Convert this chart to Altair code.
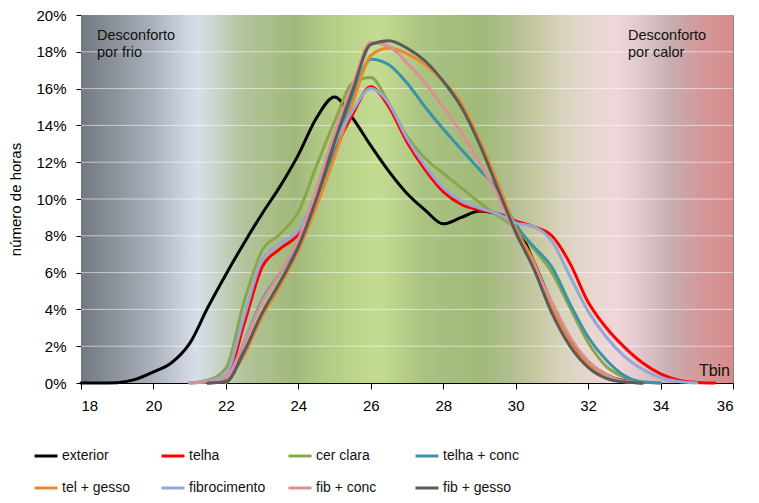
import altair as alt
import pandas as pd

N = None
# temperature bins (°C)
x_bins = [18.0 + 0.5 * i for i in range(37)]

# percentage of hours (%) per series, aligned with x_bins
exterior = [0, 0, 0.02, 0.2, 0.6, 1.1, 2.15, 4.1, 5.9, 7.6, 9.2, 10.7, 12.4, 14.4, 15.55, 14.4, 12.9, 11.5, 10.3, 9.4, 8.65, 9.0, 9.35, 9.2, 8.6, 6.6, 4.3, 2.4, 1.15, 0.45, 0.12, 0, N, N, N, N, N]
telha = [N, N, N, N, N, N, N, 0, 0.2, 3.2, 6.3, 7.3, 8.1, 10.2, 12.6, 14.6, 16.1, 15.0, 13.1, 11.6, 10.4, 9.7, 9.4, 9.2, 8.8, 8.5, 8.0, 6.5, 4.4, 3.0, 1.95, 1.1, 0.5, 0.15, 0.03, 0, N]
cer_clara = [N, N, N, N, N, N, 0, 0.15, 0.8, 4.4, 7.2, 8.1, 9.3, 11.8, 14.2, 16.3, 16.6, 15.2, 13.4, 12.2, 11.4, 10.6, 9.8, 9.1, 8.4, 7.3, 6.0, 4.1, 2.2, 0.9, 0.3, 0.05, 0, N, N, N, N]
telha_conc = [N, N, N, N, N, N, N, 0, 0.1, 2.2, 4.5, 6.0, 7.6, 9.9, 12.8, 15.5, 17.6, 17.3, 16.3, 15.0, 13.8, 12.7, 11.6, 10.5, 8.6, 7.4, 6.3, 4.3, 2.5, 1.25, 0.4, 0.05, 0, N, N, N, N]
tel_gesso = [N, N, N, N, N, N, N, N, 0, 1.5, 3.6, 5.3, 7.2, 9.6, 12.3, 15.2, 17.8, 18.2, 17.9, 17.3, 16.4, 15.2, 13.2, 10.9, 8.4, 6.6, 4.1, 2.2, 1.0, 0.35, 0.08, 0, N, N, N, N, N]
fibrocimento = [N, N, N, N, N, N, 0, 0.1, 0.5, 3.6, 6.7, 7.6, 8.3, 10.4, 13.0, 14.8, 16.0, 15.2, 13.3, 11.8, 10.6, 9.9, 9.5, 9.2, 8.7, 8.5, 7.7, 5.8, 3.9, 2.5, 1.45, 0.75, 0.3, 0.08, 0, N, N]
fib_conc = [N, N, N, N, N, N, 0, 0.05, 0.3, 2.2, 4.4, 6.0, 7.8, 10.5, 13.6, 16.2, 18.5, 18.3, 17.4, 16.3, 15.0, 13.6, 12.0, 10.2, 8.1, 6.4, 4.4, 2.5, 1.2, 0.45, 0.1, 0, N, N, N, N, N]
fib_gesso = [N, N, N, N, N, N, N, 0, 0.05, 1.7, 3.8, 5.5, 7.4, 10.0, 13.1, 15.9, 18.4, 18.6, 18.2, 17.5, 16.4, 15.0, 13.0, 10.6, 8.2, 6.2, 3.8, 2.0, 0.85, 0.25, 0.05, 0, N, N, N, N, N]

series_names = ["exterior", "telha", "cer clara", "telha + conc",
                "tel + gesso", "fibrocimento", "fib + conc", "fib + gesso"]
series_values = [exterior, telha, cer_clara, telha_conc,
                 tel_gesso, fibrocimento, fib_conc, fib_gesso]
series_colors = ["#000000", "#ff0000", "#8aa64a", "#3a93a8",
                 "#e8892f", "#94a7d6", "#da9095", "#5a5a5a"]

x_ticks = [18, 20, 22, 24, 26, 28, 30, 32, 34, 36]
y_grid = [2, 4, 6, 8, 10, 12, 14, 16, 18]

# background gradient (temperature -> colour)
grad_temps = [18, 19, 20, 20.7, 21.2, 21.8, 22.5, 23.3, 23.9, 24.6, 25.5, 26.2, 26.8,
              27.5, 28.5, 29.1, 29.9, 30.7, 31.3, 32.0, 32.8, 33.5, 34.3, 35.0, 36]
grad_colors = ["#737981", "#8e949c", "#abb2bd", "#c6cdd9", "#d6dee9", "#c7d3c6",
               "#b2c39c", "#a9bd86", "#a1b87c", "#b0c885", "#bcd58b", "#c3dc92",
               "#b8d08a", "#aac281", "#a5bd7c", "#a1ba78", "#b3bf90", "#cacaa6",
               "#d8d3bd", "#e6d6cc", "#efd6da", "#dfc6ca", "#c8adb1", "#d29b9c", "#d88b8b"]

rows = []
for name, vals in zip(series_names, series_values):
    assert len(vals) == len(x_bins)
    for xv, v in zip(x_bins, vals):
        if v is not None:
            rows.append({"t": xv, "v": v, "series": name})
df = pd.DataFrame(rows)

FONT = "Liberation Sans, Arial, sans-serif"

xscale = alt.Scale(domain=[18, 36], nice=False, zero=False)
yscale = alt.Scale(domain=[0, 20], nice=False)
xaxis = alt.Axis(values=x_ticks, title=None, grid=False, tickSize=6,
                 labelPadding=9, labelFontSize=15, labelFont=FONT, labelColor="black",
                 domainColor="black", tickColor="black")
yaxis = alt.Axis(values=[0, 2, 4, 6, 8, 10, 12, 14, 16, 18, 20], title="número de horas",
                 grid=False, tickSize=5, labelPadding=10, labelFontSize=15, labelFont=FONT,
                 labelExpr="datum.value + '%'", labelColor="black",
                 domainColor="black", tickColor="black",
                 titleFont=FONT, titleFontSize=15, titleFontWeight="normal", titleColor="black",
                 titleX=-61, titleY=184, titleAngle=270, titleBaseline="alphabetic",
                 titleAlign="center")

bg_df = pd.DataFrame({"x0": [x_ticks[0]], "x1": [x_ticks[-1]], "y0": [0], "y1": [20]})
background = alt.Chart(bg_df).mark_rect(
    color=alt.Gradient(
        gradient="linear",
        stops=[alt.GradientStop(offset=(t - 18) / 18.0, color=c) for t, c in zip(grad_temps, grad_colors)],
        x1=0, x2=1, y1=0, y2=0,
    )
).encode(
    x=alt.X("x0:Q", scale=xscale, axis=xaxis),
    x2="x1:Q",
    y=alt.Y("y0:Q", scale=yscale, axis=yaxis),
    y2="y1:Q",
)

grid = alt.Chart(pd.DataFrame({"g": y_grid})).mark_rule(
    color="#ffffff", opacity=0.55, strokeWidth=1
).encode(y=alt.Y("g:Q", scale=yscale, axis=yaxis))

color_scale = alt.Scale(domain=series_names, range=series_colors)
legend = alt.Legend(
    title=None, orient="none", legendX=-48, legendY=428, columns=4, direction="horizontal",
    symbolType="stroke", symbolStrokeWidth=3, symbolSize=529, labelFont=FONT,
    labelFontSize=14, labelColor="#111111", labelOffset=3, gridAlign="all",
    columnPadding=16, rowPadding=12, padding=0, labelLimit=200,
)

line_layers = []
for i, name in enumerate(series_names):
    line_layers.append(
        alt.Chart(df).transform_filter(alt.datum.series == name).mark_line(
            strokeWidth=3, interpolate="monotone", strokeCap="round", strokeJoin="round"
        ).encode(
            x=alt.X("t:Q", scale=xscale, axis=xaxis),
            y=alt.Y("v:Q", scale=yscale, axis=yaxis),
            color=alt.Color("series:N", scale=color_scale, legend=legend),
        )
    )

txt_df = pd.DataFrame({"a": [0]})
txt_cold = alt.Chart(txt_df).mark_text(
    text=["Desconforto", "por frio"], align="left", baseline="alphabetic",
    font=FONT, fontSize=14.5, lineHeight=17, color="#111111"
).encode(x=alt.value(16), y=alt.value(25))
txt_hot = alt.Chart(txt_df).mark_text(
    text=["Desconforto", "por calor"], align="left", baseline="alphabetic",
    font=FONT, fontSize=14.5, lineHeight=17, color="#111111"
).encode(x=alt.value(547), y=alt.value(25))
txt_tbin = alt.Chart(txt_df).mark_text(
    text="Tbin", align="right", baseline="alphabetic",
    font=FONT, fontSize=16, color="#111111"
).encode(x=alt.value(649), y=alt.value(361))

chart = alt.layer(background, grid, *line_layers, txt_cold, txt_hot, txt_tbin).properties(
    width=652, height=368,
    padding={"left": 73, "top": 7, "right": 18, "bottom": 112},
    autosize="none",
).configure_view(stroke="#878787", strokeWidth=1)

chart.save("out.html", embed_options={"renderer": "svg", "actions": False})
